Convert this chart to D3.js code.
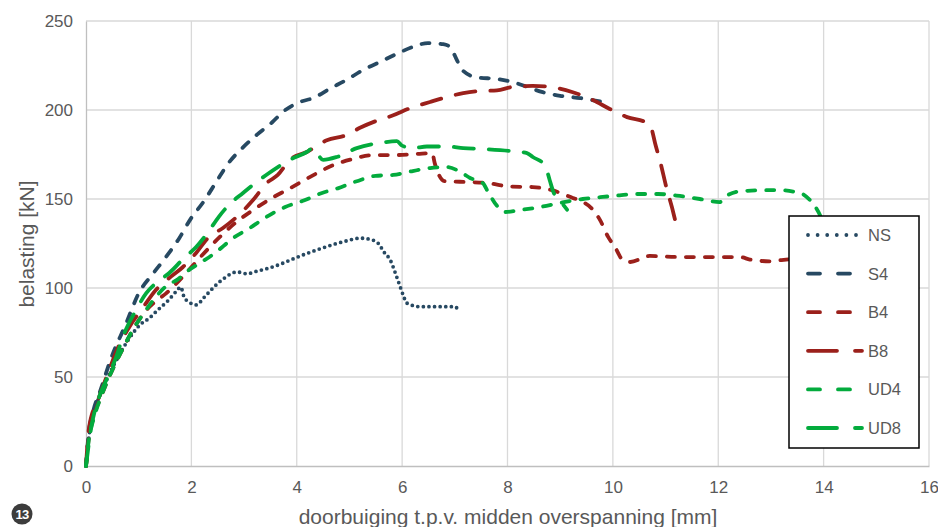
<!DOCTYPE html>
<html><head><meta charset="utf-8">
<script src="https://cdn.jsdelivr.net/npm/d3@7"></script>
<style>body{margin:0;background:#fff;}svg{display:block;font-family:"Liberation Sans",Arial,sans-serif;}</style>
</head><body><svg id="c" width="938" height="527"></svg>
<script>
const seriesNames = ["NS","S4","B4","B8","UD4","UD8"];
const xTicks = [0,2,4,6,8,10,12,14,16];
const yTicks = [0,50,100,150,200,250];

const NS = [[0,0],[0.05,15],[0.15,30],[0.3,42],[0.5,55],[0.7,66],[0.9,75],[1.05,80],[1.2,83],[1.36,87.6],[1.56,93],[1.71,98],[1.8,100.5],[1.86,95],[1.96,92],[2.09,90.5],[2.25,95],[2.41,100],[2.6,105],[2.87,109],[3.05,108],[3.25,109.5],[3.45,111],[3.7,113.5],[3.9,116],[4.2,119.5],[4.44,122],[4.7,124.5],[4.95,126.5],[5.2,128],[5.43,127],[5.55,125],[5.66,120],[5.77,116],[5.9,106],[5.96,101],[6.02,96],[6.09,91.5],[6.34,89.5],[6.7,89.5],[7.0,89.5],[7.08,87]];
const S4 = [[0,0],[0.05,18],[0.13,30],[0.28,43],[0.47,60],[0.76,80],[1.0,97],[1.27,108],[1.52,117.5],[1.77,128],[1.99,139],[2.22,148],[2.47,159.5],[2.7,170],[2.98,179],[3.24,186],[3.53,193],[3.74,199],[4.06,204.5],[4.31,206.7],[4.63,212],[4.95,217],[5.26,222.5],[5.58,227],[5.86,231],[6.2,235.4],[6.49,237.6],[6.78,237],[6.91,235.4],[7.04,228],[7.14,222.5],[7.42,218.3],[7.82,217.4],[8.18,215],[8.37,213],[8.67,210],[9.0,208],[9.38,206.7],[9.81,204.5]];
const B4 = [[0,0],[0.05,15],[0.15,28],[0.3,40],[0.5,54],[0.7,66],[0.9,77],[1.1,86],[1.3,92],[1.52,97],[1.9,108.4],[2.16,117],[2.54,128.7],[2.83,136.5],[3.17,143.8],[3.53,150.6],[3.87,156],[4.29,163],[4.69,169],[5.07,172.5],[5.45,174.7],[5.9,174.7],[6.28,175.3],[6.57,175.8],[6.62,170],[6.81,160],[7.29,159.5],[7.6,159],[8.05,157],[8.48,156.7],[8.84,155],[9.24,150.6],[9.38,149],[9.62,144],[9.76,138],[9.91,128.7],[10.04,123],[10.19,115.7],[10.33,114.6],[10.7,118],[11.27,117.4],[12.03,117.4],[12.41,117.4],[12.6,116],[12.98,115],[13.2,115.7],[13.6,117]];
const B8 = [[0,0],[0.06,22],[0.25,38.8],[0.44,54],[0.63,68],[0.82,78],[1.08,89],[1.33,99],[1.58,105.6],[1.84,111.8],[2.09,119.7],[2.33,128.6],[2.6,133.7],[2.9,141],[3.17,149.4],[3.43,159],[3.64,163.5],[3.87,172],[4.19,176.4],[4.57,183],[4.95,186],[5.2,190],[5.52,194],[5.83,197],[6.15,201],[6.53,204.5],[6.78,206.7],[7.16,209.5],[7.48,210.7],[7.8,211],[8.1,213],[8.48,213.5],[8.8,213],[9.24,210],[9.62,205.6],[9.94,200.6],[10.27,196],[10.65,192.7],[10.74,188.8],[10.8,181.5],[10.9,170.8],[11.02,156],[11.12,145.5],[11.2,136.5],[11.3,131.5]];
const UD4 = [[0,0],[0.05,14],[0.15,27],[0.3,40],[0.5,54],[0.7,66],[0.9,77],[1.1,86],[1.3,94],[1.52,101],[1.75,105],[1.95,110],[2.16,114],[2.45,119.7],[2.79,128],[3.11,133.7],[3.43,140],[3.78,145.5],[4.12,149],[4.48,153.4],[4.78,156],[5.14,160],[5.49,163],[5.83,163.5],[6.2,165.7],[6.53,167.4],[6.85,168],[7.14,164.6],[7.29,161.8],[7.53,159],[7.63,154],[7.82,145.5],[7.95,142.7],[8.24,143.8],[8.62,145.5],[9.0,147.8],[9.43,150],[9.76,151],[10.0,151.7],[10.46,152.8],[10.86,152.8],[11.27,151.7],[11.65,150],[12.03,148.3],[12.17,152],[12.47,154.5],[13.11,155],[13.55,153.4],[13.74,149.4],[13.93,141],[14.0,136]];
const UD8 = [[0,0],[0.09,20],[0.25,38.8],[0.38,48],[0.57,61],[0.7,72.5],[0.95,87.6],[1.14,97],[1.33,102.8],[1.58,108.4],[1.86,116.8],[2.09,123],[2.32,131.5],[2.52,140],[2.71,146.6],[2.98,153.4],[3.17,158],[3.42,163.5],[3.87,172],[4.19,176.4],[4.31,178.6],[4.4,175],[4.5,172],[4.76,173.6],[5.14,178.6],[5.58,181.5],[5.9,182.5],[6.0,180],[6.2,178.6],[6.47,179.5],[6.85,179.5],[7.16,178.6],[7.6,178],[8.05,177],[8.37,175.8],[8.48,173.6],[8.71,169],[8.8,160.7],[8.87,154],[9.0,149],[9.13,144]];
const seriesData = [NS,S4,B4,B8,UD4,UD8];

const blue="#274962", red="#9b201b", green="#03ab3d";
const styles = [
  {c:blue, d:"0,5.6", ld:"0,9.6"},
  {c:blue, d:"8,11", ld:"12,18"},
  {c:red, d:"8,11", ld:"12,18"},
  {c:red, d:"20,15", ld:"29,18"},
  {c:green, d:"8,11", ld:"12,18"},
  {c:green, d:"20,15", ld:"29,18"}
];

const svg = d3.select("#c");
const x = d3.scaleLinear().domain([0,16]).range([86,929]);
const y = d3.scaleLinear().domain([0,250]).range([466,21]);
const tc = "#595959";

// grid
svg.append("g").selectAll("line").data(xTicks.slice(1)).join("line")
  .attr("x1",d=>x(d)).attr("x2",d=>x(d)).attr("y1",y(0)).attr("y2",y(250))
  .attr("stroke","#d9d9d9").attr("stroke-width",1.3);
svg.append("g").selectAll("line").data(yTicks.slice(1)).join("line")
  .attr("x1",x(0)).attr("x2",x(16)).attr("y1",d=>y(d)).attr("y2",d=>y(d))
  .attr("stroke","#d9d9d9").attr("stroke-width",1.3);

// axes
const xa = svg.append("g").attr("transform",`translate(0,${y(0)})`)
  .call(d3.axisBottom(x).tickValues(xTicks).tickSize(0).tickPadding(15));
const ya = svg.append("g").attr("transform",`translate(${x(0)},0)`)
  .call(d3.axisLeft(y).tickValues(yTicks).tickSize(0).tickPadding(13));
[xa,ya].forEach(a=>{
  a.select(".domain").attr("stroke","#bfbfbf").attr("stroke-width",1.3);
  a.selectAll("text").attr("fill",tc).attr("font-size","17px").attr("font-family","Liberation Sans, Arial, sans-serif");
});

// lines
const line = d3.line().x(d=>x(d[0])).y(d=>y(d[1])).curve(d3.curveMonotoneX);
seriesData.forEach((s,i)=>{
  svg.append("path").datum(s).attr("d",line).attr("fill","none")
    .attr("stroke",styles[i].c).attr("stroke-width",3.8)
    .attr("stroke-linecap","round").attr("stroke-linejoin","round")
    .attr("stroke-dasharray",styles[i].d);
});

// legend
const lg = svg.append("g");
lg.append("rect").attr("x",789).attr("y",216).attr("width",130).attr("height",232)
  .attr("fill","#fff").attr("stroke","#000").attr("stroke-width",1.5);
const ly = d3.scalePoint().domain(seriesNames).range([235,428]);
seriesNames.forEach((n,i)=>{
  lg.append("line").attr("x1",808).attr("x2",862).attr("y1",ly(n)).attr("y2",ly(n))
    .attr("stroke",styles[i].c).attr("stroke-width",3.8).attr("stroke-linecap","round")
    .attr("stroke-dasharray",styles[i].ld);
  lg.append("text").attr("x",868).attr("y",ly(n)).attr("dy","0.36em")
    .attr("fill",tc).attr("font-size","16.5px").text(n);
});

// titles
svg.append("text").attr("x",508).attr("y",524).attr("text-anchor","middle")
  .attr("fill",tc).attr("font-size","21px").text("doorbuiging t.p.v. midden overspanning [mm]");
svg.append("text").attr("transform","translate(34,244) rotate(-90)").attr("text-anchor","middle")
  .attr("fill",tc).attr("font-size","21px").text("belasting [kN]");

// badge
svg.append("circle").attr("cx",22).attr("cy",514).attr("r",10.5).attr("fill","#3c3c3c");
svg.append("text").attr("x",22).attr("y",514).attr("dy","0.36em").attr("text-anchor","middle")
  .attr("fill","#fff").attr("font-size","13px").attr("font-weight","bold").attr("letter-spacing","-0.8px").text("13");
</script></body></html>
